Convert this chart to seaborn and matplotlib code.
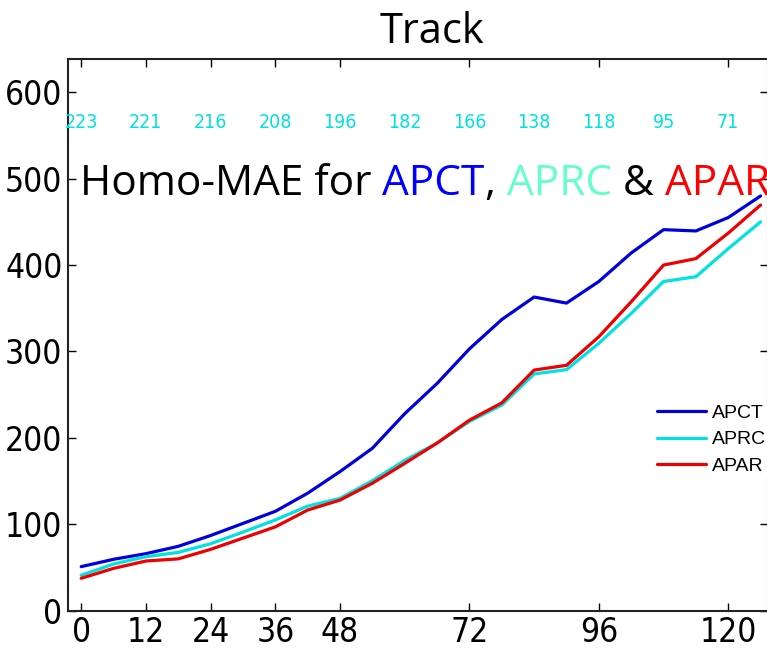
import numpy as np
import pandas as pd
import matplotlib
matplotlib.use("Agg")
import matplotlib.pyplot as plt
import seaborn as sns
from matplotlib import font_manager as fm
import os

hours = [0, 6, 12, 18, 24, 30, 36, 42, 48, 54, 60, 66, 72, 78, 84, 90, 96, 102, 108, 114, 120, 126]
apct = [51, 59.5, 66, 74.5, 87, 101, 115, 136, 161, 188, 228, 263, 303, 337, 363, 356, 381, 414, 441, 439.5, 455, 480]
aprc = [41, 54, 62.5, 67.5, 77.5, 91, 105, 121, 130, 150.5, 174, 194, 219, 238, 274, 279, 309.5, 344, 381, 386.5, 419, 450]
apar = [37.5, 49, 57.5, 60, 71, 84, 97, 116.5, 128, 147.5, 170.5, 194, 220.5, 240.5, 278.5, 284, 317, 357.5, 400, 407.5, 437, 469.5]
series_names = ["APCT", "APRC", "APAR"]
count_hours = [0, 12, 24, 36, 48, 60, 72, 84, 96, 108, 120]
counts = [223, 221, 216, 208, 196, 182, 166, 138, 118, 95, 71]
xticks = [0, 12, 24, 36, 48, 72, 96, 120]
yticks = [0, 100, 200, 300, 400, 500, 600]

sns.set_style("ticks")
plt.rcParams["font.family"] = ["Liberation Sans", "DejaVu Sans"]
plt.rcParams["text.color"] = "black"

# pick a regular (non-bold, non-italic) condensed face for the tick numbers
def find_narrow():
    files = [f.fname for f in fm.fontManager.ttflist]
    prefs = ["LiberationSansNarrow-Regular", "DejaVuSansCondensed."]
    for p in prefs:
        for fn in files:
            if p in os.path.basename(fn):
                return fm.FontProperties(fname=fn)
    return None

tick_font = find_narrow()

df = pd.DataFrame({
    "hour": hours * 3,
    "err": apct + aprc + apar,
    "model": sum([[n] * len(hours) for n in series_names], []),
})
palette = {"APCT": "#0000DD", "APRC": "#00E2E2", "APAR": "#EE0000"}

fig = plt.figure(figsize=(7.67, 6.5), dpi=100)
ax = fig.add_axes([68 / 767, 39.3 / 650, (767.6 - 68) / 767, (610.7 - 59) / 650])
sns.lineplot(data=df, x="hour", y="err", hue="model", palette=palette, linewidth=2.3, ax=ax, legend=True)

ax.set_xlim(-2.45, 127.3)
ax.set_ylim(0, 638.5)
ax.set_xticks(xticks)
ax.set_yticks(yticks)
ax.set_xlabel("")
ax.set_ylabel("")
ax.tick_params(direction="in", length=6, width=1, top=True, right=True, pad=4, colors="black")
for lab in ax.get_xticklabels() + ax.get_yticklabels():
    if tick_font is not None:
        lab.set_fontproperties(tick_font)
    lab.set_fontsize(24)
    lab.set_color("black")
for sp in ax.spines.values():
    sp.set_visible(True)
    sp.set_linewidth(1.5)
    sp.set_color("#222222")

for h, c in zip(count_hours, counts):
    t = ax.text(h, 564.5, str(c), color="#00E2E2", fontsize=13, ha="center", va="center")
    if tick_font is not None:
        t.set_fontproperties(tick_font)
        t.set_fontsize(14)

leg = ax.legend(loc="upper left", bbox_to_anchor=(0.842, 0.374), frameon=True, fontsize=14,
                handlelength=2.5, handletextpad=0.3, labelspacing=0.45, borderpad=0, borderaxespad=0,
                fancybox=False, facecolor="white", edgecolor="white", framealpha=1.0)
leg.set_zorder(10)

fig.text(432 / 767, 1 - 32 / 650, "Track", fontsize=30, family="Open Sans", ha="center", va="center",
         color="black")

# multicolour caption
parts = [("Homo-MAE for ", "black"), ("APCT", "#0000FF"), (", ", "black"), ("APRC", "#66FFCC"),
         (" & ", "black"), ("APAR", "#FF0000")]
fig.canvas.draw()
renderer = fig.canvas.get_renderer()
x0, y0 = 80, 650 - 195
cur = x0
for txt, col in parts:
    t = fig.text(cur / 767, y0 / 650, txt, color=col, fontsize=30.5, family="Open Sans", ha="left", va="baseline")
    bb = t.get_window_extent(renderer=renderer)
    cur = bb.x1

fig.savefig("out.png", dpi=100)
